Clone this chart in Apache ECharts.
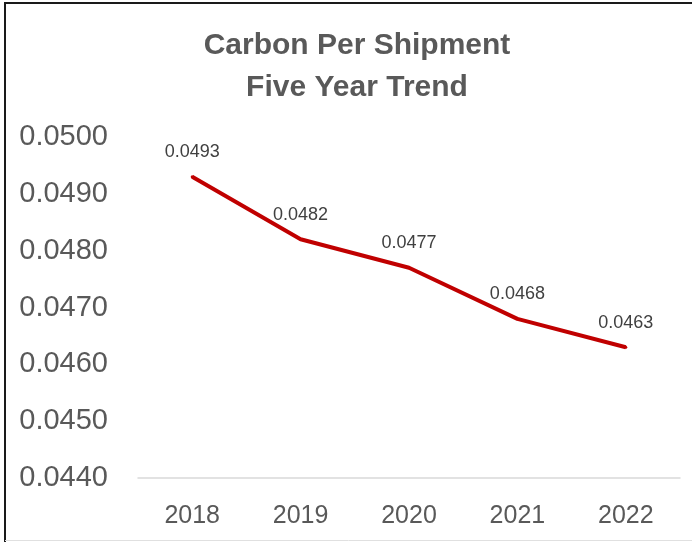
<!DOCTYPE html>
<html>
<head>
<meta charset="utf-8">
<script src="https://cdn.jsdelivr.net/npm/echarts@6/dist/echarts.min.js"></script>
<style>
  html, body { margin: 0; padding: 0; background: #fff; }
  #chart { width: 692px; height: 542px; }
</style>
</head>
<body>
<div id="chart"></div>
<script>
const years = ['2018', '2019', '2020', '2021', '2022'];
const carbonPerShipment = [0.0493, 0.0482, 0.0477, 0.0468, 0.0463];
const yMin = 0.044;
const yMax = 0.05;
const yStep = 0.001;

const chart = echarts.init(document.getElementById('chart'));

chart.setOption({
  animation: false,
  title: {
    text: 'Carbon Per Shipment\nFive Year Trend',
    left: 352,
    textAlign: 'center',
    top: 20,
    textStyle: {
      fontFamily: 'Liberation Sans',
      fontSize: 30,
      fontWeight: 'bold',
      color: '#595959',
      lineHeight: 42
    }
  },
  graphic: [
    {
      type: 'polyline',
      shape: { points: [[5, 542], [5, 3], [692, 3]] },
      style: { stroke: '#1a1a1a', lineWidth: 2, fill: null }
    },
    {
      type: 'line',
      shape: { x1: 5, y1: 540.5, x2: 692, y2: 540.5 },
      style: { stroke: '#e0e0e0', lineWidth: 1 }
    }
  ],
  grid: { left: 138, right: 12, top: 137, bottom: 64 },
  xAxis: {
    type: 'category',
    data: years,
    axisLine: { lineStyle: { color: '#d9d9d9', width: 1.5 } },
    axisTick: { show: false },
    axisLabel: {
      fontFamily: 'Liberation Sans',
      fontSize: 25,
      color: '#595959',
      margin: 26
    }
  },
  yAxis: {
    type: 'value',
    min: yMin,
    max: yMax,
    interval: yStep,
    axisLine: { show: false },
    axisTick: { show: false },
    splitLine: { show: false },
    axisLabel: {
      fontFamily: 'Liberation Sans',
      fontSize: 29,
      color: '#595959',
      margin: 30,
      formatter: v => v.toFixed(4)
    }
  },
  series: [{
    type: 'line',
    data: carbonPerShipment,
    symbol: 'circle',
    symbolSize: 3,
    showSymbol: true,
    itemStyle: { color: '#c00000' },
    lineStyle: { color: '#c00000', width: 4 },
    label: {
      show: true,
      position: 'top',
      distance: 14,
      fontFamily: 'Liberation Sans',
      fontSize: 18,
      color: '#404040',
      formatter: p => p.value.toFixed(4)
    }
  }]
});
</script>
</body>
</html>
